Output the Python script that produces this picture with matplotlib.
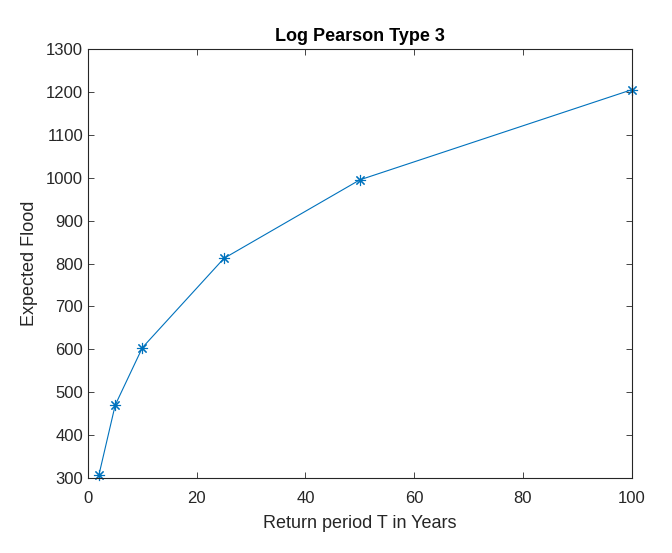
import matplotlib
matplotlib.use("Agg")
import matplotlib.pyplot as plt

plt.rcParams['font.family'] = ['Liberation Sans', 'DejaVu Sans']

# return periods and expected flood values
return_period = [2, 5, 10, 25, 50, 100]
expected_flood = [307, 470, 604, 812, 995, 1205]

x_ticks = [0, 20, 40, 60, 80, 100]
y_ticks = [300, 400, 500, 600, 700, 800, 900, 1000, 1100, 1200, 1300]

fig = plt.figure(figsize=(6.72, 5.53), dpi=100)
ax = fig.add_axes([0.131, 0.1356, 0.809, 0.7758])

ax.plot(return_period, expected_flood, color='#0072BD', linewidth=0.8,
        marker=(8, 2, 0), markersize=8, markeredgewidth=0.8, clip_on=False)

ax.set_xlim(0, 100)
ax.set_ylim(300, 1300)
ax.set_xticks(x_ticks)
ax.set_yticks(y_ticks)
ax.tick_params(direction='in', length=4, width=0.6, colors='#262626',
               labelsize=12, top=True, right=True, labeltop=False, labelright=False)
ax.tick_params(axis='x', pad=9)
for s in ax.spines.values():
    s.set_color('#262626')
    s.set_linewidth(0.8)

ax.set_xlabel("Return period T in Years", fontsize=13, color='#262626', labelpad=7)
ax.set_ylabel("Expected Flood", fontsize=13, color='#262626', labelpad=6)
ax.set_title("Log Pearson Type 3", fontsize=13, fontweight='bold', pad=6)

fig.savefig("out.png", dpi=100)
